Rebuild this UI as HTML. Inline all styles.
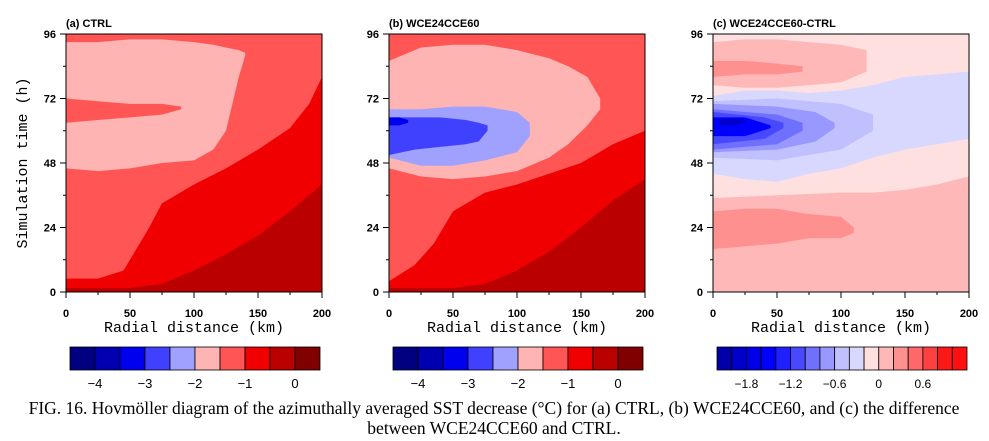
<!DOCTYPE html>
<html><head><meta charset="utf-8"><style>
body{margin:0;background:#fff;}
svg{display:block;font-family:"Liberation Sans",sans-serif;}
</style></head><body>
<svg id="fig" width="989" height="441" viewBox="0 0 989 441" xmlns="http://www.w3.org/2000/svg"></svg>
<script>
// ---------- data: contour regions (radius km, time h) ----------
// Panel a (CTRL)
const aDarkR=[0,50,75,100,125,150,175,200];
const aDarkHi=[1.5,1.5,3,8,14,21,30,40];
const aRedR=[0,25,45,55,65,75,100,125,150,175,190,200];
const aRedHi=[5,5,8,16,24,33,40,46,53,61,70,80];
const aPinkR=[0,25,50,75,100,115,125,135,140];
const aPinkLo=[46,45,46,48,49,53,60,80,88];
const aPinkHi=[93,93,94,94,93,92,91,90,89];
const aBandR=[0,25,50,75,90];
const aBandLo=[63,64,65,66,68];
const aBandHi=[72,71,70,70,69];
// Panel b (WCE24CCE60)
const bDarkR=[0,50,75,100,125,150,175,200];
const bDarkHi=[1.5,1.5,3,8,15,24,34,42];
const bRedR=[0,20,35,50,75,100,125,150,175,200];
const bRedHi=[4,10,18,30,37,40,44,48,55,60];
const bPinkR=[0,25,50,75,100,125,140,155,165];
const bPinkLo=[46,43,42,43,45,50,55,62,68];
const bPinkHi=[86,91,92,92,90,87,84,80,72];
const bLblueR=[0,25,50,75,100,110];
const bLblueLo=[50,47,47,49,52,58];
const bLblueHi=[68,68,69,69,67,63];
const bBlueR=[0,20,40,60,70,77];
const bBlueLo=[51,53,54,55,56,60];
const bBlueHi=[65,65,65,64,63,62];
const bNavyR=[0,8,15];
const bNavyLo=[62,62,63];
const bNavyHi=[65,65,64];
// Panel c (difference)
const cLowR=[0,50,100,125,150,175,200];
const cLowHi=[35,36,37,37,38,40,43];
const cLowRedR=[0,25,50,75,100,110];
const cLowRedLo=[16,17,18,20,20,22];
const cLowRedHi=[30,31,31,29,28,24];
const cUpR=[0,25,50,75,100,120];
const cUpLo=[77,76,76,77,78,82];
const cUpHi=[93,94,94,93,92,90];
const cUpRedR=[0,25,50,70];
const cUpRedLo=[80,81,81,82];
const cUpRedHi=[86,86,85,84];
const cLavR=[0,25,50,75,100,125,150,175,200];
const cLavLo=[44,42,41,44,46,50,53,55,57];
const cLavHi=[73,75,75,74,75,77,80,81,82];
const cL2R=[0,50,100,125];
const cL2Lo=[50,49,53,60];
const cL2Hi=[71,72,70,66];
const cL3R=[0,50,80,95];
const cL3Lo=[52,53,56,61];
const cL3Hi=[70,69,67,63];
const cL4R=[0,50,70];
const cL4Lo=[53,55,60];
const cL4Hi=[68,66,63];
const cL5R=[0,40,55];
const cL5Lo=[55,57,61];
const cL5Hi=[67,65,63];
const cL6R=[0,25,45];
const cL6Lo=[58,58,61];
const cL6Hi=[65,65,62];
const cL7R=[5,15,25];
const cL7Lo=[62,62,63];
const cL7Hi=[64,64.5,64];
// colour bars
const cbAbsColors=["#000080","#0000b0","#0000ee","#4040ff","#a0a0ff","#ffb4b4","#ff5555","#f00000","#bb0000","#800000"];
const cbAbsLabels=["−4","−3","−2","−1","0"];
const cbDiffColors=["#0000a8","#0000c8","#0000e8","#0000ff","#2020ff","#4848ff","#7070ff","#9898ff","#c0c0ff","#d8d8ff","#ffe0e0","#ffb8b8","#ff9090","#ff6868","#ff4040","#ff1818","#ff1010"];
const cbDiffLabels=["−1.8","−1.2","−0.6","0","0.6"];
const xTicks=[0,50,100,150,200];
const yTicks=[0,24,48,72,96];

const NS="http://www.w3.org/2000/svg";
const svg=document.getElementById('fig');
function mk(tag,attrs,parent){const e=document.createElementNS(NS,tag);for(const k in attrs)e.setAttribute(k,attrs[k]);(parent||svg).appendChild(e);return e;}

const panels=[
 {id:'a',x0:66,title:'(a) CTRL',bg:'#ff5555',layers:[
  ['#f00000',aRedR,null,aRedHi],['#bb0000',aDarkR,null,aDarkHi],['#ffb4b4',aPinkR,aPinkLo,aPinkHi],['#ff5555',aBandR,aBandLo,aBandHi]]},
 {id:'b',x0:389,title:'(b) WCE24CCE60',bg:'#ff5555',layers:[
  ['#f00000',bRedR,null,bRedHi],['#bb0000',bDarkR,null,bDarkHi],['#ffb4b4',bPinkR,bPinkLo,bPinkHi],['#a0a0ff',bLblueR,bLblueLo,bLblueHi],['#4040ff',bBlueR,bBlueLo,bBlueHi],['#0000ee',bNavyR,bNavyLo,bNavyHi]]},
 {id:'c',x0:713,title:'(c) WCE24CCE60-CTRL',bg:'#ffe0e0',layers:[
  ['#ffb8b8',cLowR,null,cLowHi],['#ff9090',cLowRedR,cLowRedLo,cLowRedHi],['#ffb8b8',cUpR,cUpLo,cUpHi],['#ff9090',cUpRedR,cUpRedLo,cUpRedHi],
  ['#d8d8ff',cLavR,cLavLo,cLavHi],['#c0c0ff',cL2R,cL2Lo,cL2Hi],['#9898ff',cL3R,cL3Lo,cL3Hi],['#7070ff',cL4R,cL4Lo,cL4Hi],['#4848ff',cL5R,cL5Lo,cL5Hi],['#0000ff',cL6R,cL6Lo,cL6Hi],['#0000c8',cL7R,cL7Lo,cL7Hi]]}
];
const W=256,H=258,Y0=34;
panels.forEach(p=>{
  const g=mk('g',{});
  
  
  const xs=r=>p.x0+r/200*W, ys=t=>Y0+H-t/96*H;
  const bg=mk('rect',{x:p.x0,y:Y0,width:W,height:H,fill:p.bg},g);
  
  
  p.layers.forEach((L,i)=>{
    const [col,R,lo,hi]=L;
    let pts=R.map((r,k)=>xs(r)+','+ys(hi[k]));
    if(lo){pts=pts.concat(R.slice().reverse().map((r,k)=>xs(r)+','+ys(lo[R.length-1-k])));}
    else{pts.push(xs(R[R.length-1])+','+ys(0));pts.push(xs(R[0])+','+ys(0));}
    const pg=mk('polygon',{points:pts.join(' '),fill:col},g);
    
    
  });
  mk('rect',{x:p.x0,y:Y0,width:W,height:H,fill:'none',stroke:'#000','stroke-width':1},g);
  xTicks.forEach(v=>{
    mk('line',{x1:xs(v),x2:xs(v),y1:Y0+H,y2:Y0+H+6,stroke:'#000'},g);
    const t=mk('text',{x:xs(v),y:317,'text-anchor':'middle','font-size':11,'font-weight':'bold'},g);t.textContent=v;
    
    
    if(v<200)mk('line',{x1:xs(v+25),x2:xs(v+25),y1:Y0+H,y2:Y0+H+3,stroke:'#000'},g);
  });
  yTicks.forEach(v=>{
    mk('line',{x1:p.x0-6,x2:p.x0,y1:ys(v),y2:ys(v),stroke:'#000'},g);
    const t=mk('text',{x:p.x0-10,y:ys(v)+4,'text-anchor':'end','font-size':11,'font-weight':'bold'},g);t.textContent=v;
    
    
    if(v<96)mk('line',{x1:p.x0-3,x2:p.x0,y1:ys(v+12),y2:ys(v+12),stroke:'#000'},g);
  });
  const tt=mk('text',{x:p.x0,y:27,'font-size':11,'font-weight':'bold'},g);tt.textContent=p.title;
  
  
  const xt=mk('text',{x:p.x0+W/2,y:332,'text-anchor':'middle','font-size':15,'font-family':'Liberation Mono, monospace'},g);xt.textContent='Radial distance (km)';
  
  
  const cols=p.id==='c'?cbDiffColors:cbAbsColors, labs=p.id==='c'?cbDiffLabels:cbAbsLabels;
  const cx0=p.id==='c'?717:p.x0+4, cw=250, bw=cw/cols.length;
  const cb=mk('g',{},g);
  
  
  cols.forEach((c,i)=>mk('rect',{x:cx0+i*bw,y:347,width:bw,height:23,fill:c,stroke:'#000','stroke-width':0.8},cb));
  labs.forEach((l,i)=>{
    const k=p.id==='c'?2+3*i:1+2*i;
    const t=mk('text',{x:cx0+k*bw,y:388,'text-anchor':'middle','font-size':p.id==='c'?12:13,'font-family':'Liberation Sans, sans-serif'},cb);t.textContent=l;
    
    
  });
});
const yt=mk('text',{x:0,y:0,'font-size':15,'font-family':'Liberation Mono, monospace','text-anchor':'middle',transform:'translate(27,163) rotate(-90)'});
yt.textContent='Simulation time (h)';


const c1=mk('text',{x:494,y:414,'text-anchor':'middle','font-size':17.5,'font-family':'Liberation Serif, serif'});
c1.textContent='FIG. 16. Hovmöller diagram of the azimuthally averaged SST decrease (°C) for (a) CTRL, (b) WCE24CCE60, and (c) the difference';


const c2=mk('text',{x:494,y:434,'text-anchor':'middle','font-size':17.5,'font-family':'Liberation Serif, serif'});
c2.textContent='between WCE24CCE60 and CTRL.';


</script>
</body></html>
